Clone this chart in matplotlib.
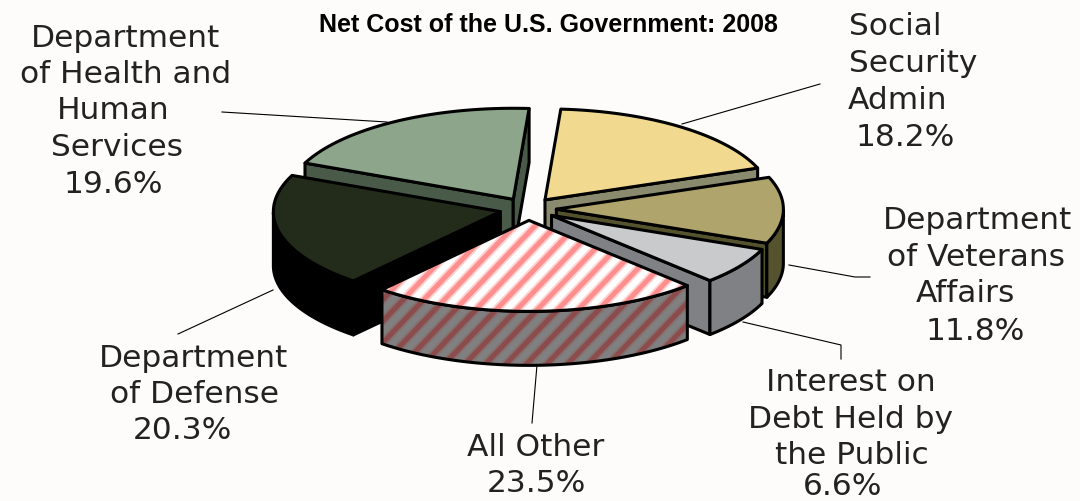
import matplotlib
matplotlib.use('Agg')
import matplotlib.pyplot as plt
from matplotlib.patches import Polygon
import numpy as np

# values in the order they go round the pie, clockwise from the top
names = ['Social Security Admin', 'Department of Veterans Affairs',
         'Interest on Debt Held by the Public', 'All Other',
         'Department of Defense', 'Department of Health and Human Services']
shares = [18.2, 11.8, 6.6, 23.5, 20.3, 19.6]
top_colors = ['#f1da90', '#aea46c', '#c8cacc', '#ffffff', '#232b1a', '#8da58a']
side_colors = ['#8a8a6e', '#55532e', '#808184', '#808080', '#000000', '#4a5a48']

title = 'Net Cost of the U.S. Government: 2008'

label_lines = [
    ['Social', 'Security', 'Admin', '18.2%'],
    ['Department', 'of Veterans', 'Affairs', '11.8%'],
    ['Interest on', 'Debt Held by', 'the Public', '6.6%'],
    ['All Other', '23.5%'],
    ['Department', 'of Defense', '20.3%'],
    ['Department', 'of Health and', 'Human', 'Services', '19.6%'],
]
label_x = [
    [895, 913, 897, 905],
    [977, 976, 965, 975],
    [851, 850, 852, 843],
    [536, 536],
    [194, 194, 182],
    [125, 126, 113, 117, 113],
]
# text baselines
label_y = [
    [35, 72, 109, 146],
    [229, 266, 302, 340],
    [391, 428, 464, 495],
    [456, 492],
    [367, 403, 439],
    [47, 83, 119, 156, 193],
]
leader_x = [[682, 820], [789, 855, 870], [743, 841, 841], [537, 532], [273, 178], [387, 222]]
leader_y = [[124, 84], [265, 277, 277], [322, 345, 359], [365, 423], [290, 334], [122, 112]]

# pie geometry in pixels
cx, cy = 528, 209
rx, ry = 227, 91
depth = 54
explode = 0.125
start_angle = 4
draw_order = [5, 0, 1, 4, 2, 3]
hatched = 3


def project(theta, r=1.0, ox=0, oy=0):
    t = np.radians(theta)
    return ox + r * rx * np.sin(t), oy - r * ry * np.cos(t)


def extrude(xs, ys):
    xs, ys = np.asarray(xs), np.asarray(ys)
    return np.r_[xs, xs[::-1]], np.r_[ys, ys[::-1] + depth]


def add_poly(ax, xs, ys, color, zorder):
    p = Polygon(np.c_[xs, ys], closed=True, facecolor=color, edgecolor='black',
                linewidth=2.2, joinstyle='round', zorder=zorder)
    ax.add_patch(p)
    return p


def add_stripes(ax, patch, colors, zorder):
    # diagonal stripes, clipped to the face; a wide pale pass softens the edges
    for c in np.arange(0, 1400, 20.5):
        for color, lw, dz in zip(colors, [6.2, 3.6], [0, 0.1]):
            line, = ax.plot([c - 300, c], [500, 500 - 300 * 1.05], color=color, lw=lw,
                            solid_capstyle='butt', zorder=zorder + dz)
            line.set_clip_path(patch)


def add_hatched(ax, xs, ys, base, colors, zorder):
    back = add_poly(ax, xs, ys, base, zorder)
    back.set_edgecolor('none')
    add_stripes(ax, back, colors, zorder + 0.2)
    outline = add_poly(ax, xs, ys, 'none', zorder + 0.5)
    return outline


fig = plt.figure(figsize=(10.8, 5.01), dpi=100, facecolor='#fdfcfa')
ax = fig.add_axes([0, 0, 1, 1])
ax.set_xlim(0, 1080)
ax.set_ylim(501, 0)
ax.axis('off')

for xs, ys in zip(leader_x, leader_y):
    ax.plot(xs, ys, color='black', lw=0.8, zorder=1)

fractions = np.array(shares) / np.sum(shares)
edges = start_angle + 360 * np.r_[0, np.cumsum(fractions)]

z = 2
for i in draw_order:
    a, b = edges[i], edges[i + 1]
    mid = (a + b) / 2
    ox, oy = project(mid, explode, cx, cy)
    arc = np.linspace(a, b, 80)
    px, py = project(arc, 1.0, ox, oy)

    # cut faces, only those turned to the viewer
    if np.sin(np.radians(a)) < 0:
        add_poly(ax, *extrude([ox, px[0]], [oy, py[0]]), side_colors[i], z)
    if np.sin(np.radians(b)) > 0:
        add_poly(ax, *extrude([ox, px[-1]], [oy, py[-1]]), side_colors[i], z)
    z += 1

    # outer wall on the front half
    front = np.cos(np.radians(arc)) < 0
    if front.any():
        wx, wy = extrude(px[front], py[front])
        if i == hatched:
            add_hatched(ax, wx, wy, side_colors[i], ['#857070', '#8c4c4c'], z)
        else:
            add_poly(ax, wx, wy, side_colors[i], z)
    z += 1

    tx, ty = np.r_[ox, px], np.r_[oy, py]
    if i == hatched:
        add_hatched(ax, tx, ty, top_colors[i], ['#ffd2d2', '#ff8f8f'], z)
    else:
        add_poly(ax, tx, ty, top_colors[i], z)
    z += 1

for lines, xs, ys in zip(label_lines, label_x, label_y):
    for s, x, y in zip(lines, xs, ys):
        ax.text(x, y, s, ha='center', va='baseline', fontsize=22.5,
                family='DejaVu Sans', color='#222222', zorder=50)

ax.text(548, 32, title, ha='center', va='baseline', fontsize=18, fontweight='bold',
        family='Liberation Sans', color='black', zorder=50)

fig.savefig('out.png', dpi=100, facecolor=fig.get_facecolor())
